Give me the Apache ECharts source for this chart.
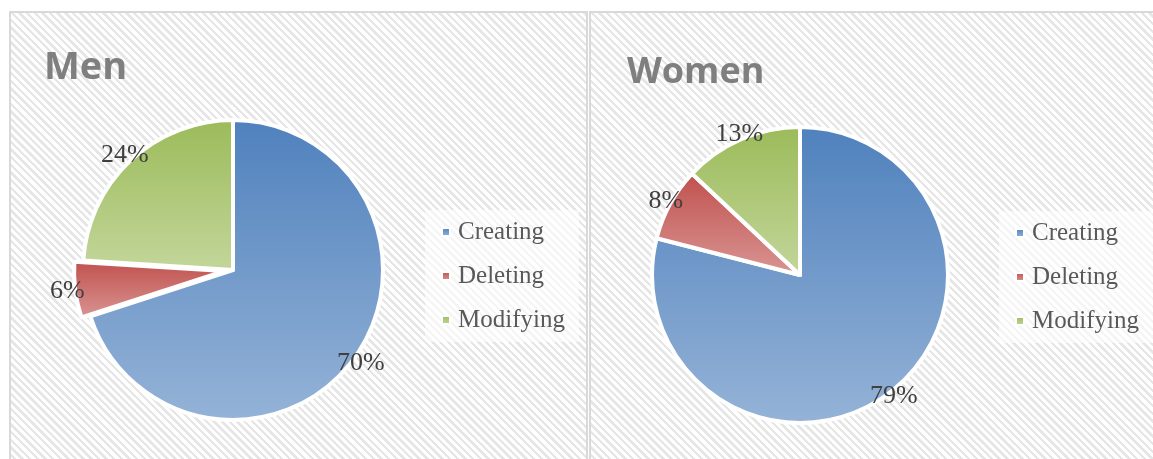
<!DOCTYPE html>
<html>
<head>
<meta charset="utf-8">
<script src="https://cdn.jsdelivr.net/npm/echarts@6.0.0/dist/echarts.min.js"></script>
<style>
html, body {
  margin: 0;
  padding: 0;
  background: #fff;
  width: 1153px;
  height: 459px;
  overflow: hidden;
  position: relative;
}
.panel {
  position: absolute;
  top: 11px;
  height: 448px;
  border-top: 2px solid #d9d9d9;
  border-left: 2px solid #d9d9d9;
  background: repeating-linear-gradient(45deg, #ffffff 0px, #ffffff 3px, #e6e6e6 3px, #e6e6e6 5.4px);
}
#men {
  left: 9px;
  width: 575px;
  border-right: 2px solid #d9d9d9;
}
#women {
  left: 589px;
  width: 562px;
}
</style>
</head>
<body>
<div class="panel" id="men"></div>
<div class="panel" id="women"></div>
<script>
var categories = ['Creating', 'Deleting', 'Modifying'];
var menValues = [70, 6, 24];
var womenValues = [79, 8, 13];
var menExploded = 'Deleting';

// top (dark) and bottom (light) colours of each slice gradient
var topColors = ['#4f81bd', '#c0504d', '#9bbb59'];
var bottomColors = ['#95b3d7', '#d99694', '#c3d69b'];

function buildData(values, exploded) {
  return values.map(function (v, i) {
    return {
      name: categories[i],
      value: v,
      selected: categories[i] === exploded,
      itemStyle: {
        color: new echarts.graphic.LinearGradient(0, 0, 0, 1, [
          {offset: 0, color: topColors[i]},
          {offset: 1, color: bottomColors[i]}
        ])
      }
    };
  });
}

function initPanel(id, title, values, exploded, opts) {
  var chart = echarts.init(document.getElementById(id));
  var data = buildData(values, exploded);
  var option = {
    animation: false,
    title: {
      text: title,
      left: opts.titleLeft,
      top: opts.titleTop,
      padding: 0,
      textStyle: {
        fontFamily: 'Open Sans',
        fontWeight: 'bold',
        fontSize: opts.titleSize,
        color: '#7f7f7f'
      }
    },
    legend: {
      orient: 'vertical',
      left: opts.legendLeft,
      top: opts.legendTop,
      data: categories,
      icon: 'rect',
      itemWidth: 8,
      itemHeight: 8,
      itemGap: 16,
      padding: [8, 14, 8, 16],
      backgroundColor: 'rgba(255,255,255,0.6)',
      textStyle: {
        fontFamily: 'Liberation Serif',
        fontSize: 25,
        lineHeight: 28,
        color: '#595959',
        padding: [0, 0, 0, 3]
      }
    },
    series: [
      {
        name: title,
        type: 'pie',
        center: opts.center,
        radius: opts.radius,
        startAngle: 90,
        selectedMode: 'single',
        selectedOffset: 9,
        silent: true,
        itemStyle: {
          borderColor: '#fff',
          borderWidth: 4
        },
        label: {show: false},
        labelLine: {show: false},
        data: data
      },
      {
        // transparent ring only used to place the percentage labels near the rim
        name: title + ' labels',
        type: 'pie',
        center: opts.center,
        radius: [opts.labelRadius - 20, opts.labelRadius + 20],
        startAngle: 90,
        selectedMode: 'single',
        selectedOffset: 9,
        silent: true,
        itemStyle: {color: 'rgba(0,0,0,0)', borderWidth: 0},
        label: {
          show: true,
          position: 'inside',
          formatter: '{c}%',
          fontFamily: 'Liberation Serif',
          fontSize: 26,
          color: '#404040'
        },
        labelLine: {show: false},
        data: values.map(function (v, i) {
          return {name: categories[i], value: v, selected: categories[i] === exploded};
        })
      }
    ]
  };
  chart.setOption(option);
  return chart;
}

initPanel('men', 'Men', menValues, menExploded, {
  titleLeft: 33, titleTop: 36, titleSize: 38,
  legendLeft: 414, legendTop: 197,
  center: [222, 257], radius: 150, labelRadius: 155
});
initPanel('women', 'Women', womenValues, null, {
  titleLeft: 36, titleTop: 42, titleSize: 36,
  legendLeft: 408, legendTop: 198,
  center: [209, 262], radius: 148, labelRadius: 150
});
</script>
</body>
</html>
